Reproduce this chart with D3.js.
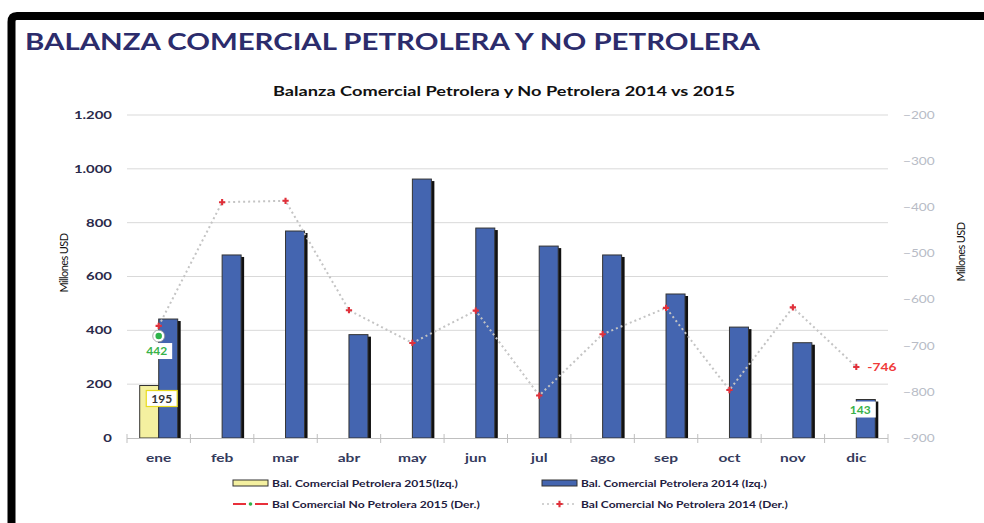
<!DOCTYPE html>
<html>
<head>
<meta charset="utf-8">
<script src="https://cdn.jsdelivr.net/npm/d3@7/dist/d3.min.js"></script>
<style>
    body { margin: 0; background: #fff; }
    svg { display: block; font-family: Lato, "Open Sans", sans-serif; }
</style>
</head>
<body>
<div id="chart"></div>
<script>
// Data
const months = ["ene", "feb", "mar", "abr", "may", "jun", "jul", "ago", "sep", "oct", "nov", "dic"];
const petrolera2015 = [195, null, null, null, null, null, null, null, null, null, null, null];
const petrolera2014 = [442, 680, 769, 384, 962, 780, 713, 680, 535, 412, 354, 143];
const noPetrolera2015 = [-679, null, null, null, null, null, null, null, null, null, null, null];
const noPetrolera2014 = [-657, -389, -386, -623, -694, -624, -808, -675, -618, -796, -617, -746];
const leftTicks = [0, 200, 400, 600, 800, 1000, 1200];
const rightTicks = [-900, -800, -700, -600, -500, -400, -300, -200];

const w = 984, h = 523;

const svg = d3.select("#chart").append("svg")
    .attr("width", w)
    .attr("height", h);

// the source picture is stretched sideways, so texts get widened around their anchor
function stretch(sel, k) {
    sel.each(function() {
        const t = d3.select(this);
        const x = +t.attr("x") || 0;
        const y = +t.attr("y") || 0;
        t.attr("x", 0).attr("y", 0)
            .attr("transform", "translate(" + x + "," + y + ") scale(" + k + ",1)");
    });
}

// frame
svg.append("path")
    .attr("d", "M11.5,523 L11.5,22 Q11.5,16 17,16 L984,16")
    .attr("fill", "none")
    .attr("stroke", "#000")
    .attr("stroke-width", 8);

// page title
svg.append("text")
    .attr("x", 25)
    .attr("y", 50)
    .attr("fill", "#2c2c6c")
    .attr("textLength", 735)
    .attr("lengthAdjust", "spacingAndGlyphs")
    .style("font-weight", "bold")
    .style("font-size", "23px")
    .text("BALANZA COMERCIAL PETROLERA Y NO PETROLERA");

// chart title
svg.append("text")
    .attr("x", 273)
    .attr("y", 96)
    .attr("fill", "#111")
    .attr("textLength", 462)
    .attr("lengthAdjust", "spacingAndGlyphs")
    .style("font-weight", "bold")
    .style("font-size", "14px")
    .text("Balanza Comercial Petrolera y No Petrolera 2014 vs 2015");

const xScale = d3.scaleBand()
    .domain(months)
    .range([127, 888])
    .padding(0);

const yLeft = d3.scaleLinear()
    .domain([0, 1200])
    .range([438, 115]);

const yRight = d3.scaleLinear()
    .domain([-900, -200])
    .range([438, 115]);

const barW = 19;
const center = function(m) { return xScale(m) + xScale.bandwidth() / 2; };

// gridlines
svg.append("g")
    .selectAll("line")
    .data(leftTicks.slice(1))
    .enter()
    .append("line")
    .attr("x1", 127)
    .attr("x2", 888)
    .attr("y1", function(d) { return yLeft(d); })
    .attr("y2", function(d) { return yLeft(d); })
    .attr("stroke", "#d9d9d9")
    .attr("stroke-width", 1);

// left axis labels
svg.append("g")
    .attr("transform", "translate(127,0)")
    .call(d3.axisLeft(yLeft).tickValues(leftTicks).tickSize(0).tickPadding(15)
        .tickFormat(function(d) { return d3.format(",")(d).replace(",", "."); }))
    .call(function(g) { g.select(".domain").remove(); })
    .selectAll("text")
    .attr("fill", "#2a2a4a")
    .style("font-weight", "bold")
    .style("font-size", "10.5px")
    .style("font-family", "Lato, sans-serif")
    .call(stretch, 1.42);

// right axis labels
svg.append("g")
    .attr("transform", "translate(888,0)")
    .call(d3.axisRight(yRight).tickValues(rightTicks).tickSize(0).tickPadding(15))
    .call(function(g) { g.select(".domain").remove(); })
    .selectAll("text")
    .attr("fill", "#b8bcc6")
    .style("font-size", "10.5px")
    .style("font-family", "Lato, sans-serif")
    .call(stretch, 1.3);

// axis titles
svg.append("text")
    .attr("transform", "translate(68,263) rotate(-90)")
    .attr("text-anchor", "middle")
    .attr("fill", "#111")
    .style("font-size", "11px")
    .style("letter-spacing", "-0.6px")
    .text("Millones USD");

svg.append("text")
    .attr("transform", "translate(965,252) rotate(-90)")
    .attr("text-anchor", "middle")
    .attr("fill", "#111")
    .style("font-size", "11px")
    .style("letter-spacing", "-0.6px")
    .text("Millones USD");

// bars with drop shadow
const bars = [
    { key: "2015", data: petrolera2015, fill: "#f4f0a0", offset: -barW },
    { key: "2014", data: petrolera2014, fill: "#4465b0", offset: 0 }
];

bars.forEach(function(s) {
    const rows = months.map(function(m, i) { return { month: m, value: s.data[i] }; })
        .filter(function(d) { return d.value != null; });

    const g = svg.append("g");

    g.selectAll("rect.shadow")
        .data(rows)
        .enter()
        .append("rect")
        .attr("class", "shadow")
        .attr("x", function(d) { return center(d.month) + s.offset + 3; })
        .attr("y", function(d) { return yLeft(d.value) + 2; })
        .attr("width", barW)
        .attr("height", function(d) { return yLeft(0) - yLeft(d.value) - 2; })
        .attr("fill", "#111");

    g.selectAll("rect.bar")
        .data(rows)
        .enter()
        .append("rect")
        .attr("class", "bar")
        .attr("x", function(d) { return center(d.month) + s.offset; })
        .attr("y", function(d) { return yLeft(d.value); })
        .attr("width", barW)
        .attr("height", function(d) { return yLeft(0) - yLeft(d.value); })
        .attr("fill", s.fill)
        .attr("stroke", "#333")
        .attr("stroke-width", 1);
});

// x axis line and ticks
svg.append("line")
    .attr("x1", 127).attr("x2", 888)
    .attr("y1", 438.5).attr("y2", 438.5)
    .attr("stroke", "#bfbfbf");

svg.append("g")
    .selectAll("line")
    .data(months.concat(["end"]))
    .enter()
    .append("line")
    .attr("x1", function(d, i) { return 127 + i * xScale.bandwidth(); })
    .attr("x2", function(d, i) { return 127 + i * xScale.bandwidth(); })
    .attr("y1", 434)
    .attr("y2", 443)
    .attr("stroke", "#bfbfbf");

svg.append("g")
    .selectAll("text")
    .data(months)
    .enter()
    .append("text")
    .attr("x", function(d) { return center(d); })
    .attr("y", 462)
    .attr("text-anchor", "middle")
    .attr("fill", "#343a5c")
    .style("font-weight", "bold")
    .style("font-size", "11.5px")
    .text(function(d) { return d; })
    .call(stretch, 1.35);

// No petrolera 2014 (dotted)
const line14 = months.map(function(m, i) { return { month: m, value: noPetrolera2014[i] }; });

svg.append("path")
    .datum(line14)
    .attr("fill", "none")
    .attr("stroke", "#c4c4c4")
    .attr("stroke-width", 2)
    .attr("stroke-dasharray", "2,3")
    .attr("d", d3.line()
        .x(function(d) { return center(d.month); })
        .y(function(d) { return yRight(d.value); }));

const plus = d3.symbol().type(d3.symbolCross).size(22);

svg.append("g")
    .selectAll("path")
    .data(line14)
    .enter()
    .append("path")
    .attr("transform", function(d) { return "translate(" + center(d.month) + "," + yRight(d.value) + ")"; })
    .attr("d", plus)
    .attr("fill", "#e0303a");

// No petrolera 2015 (single point)
const line15 = months.map(function(m, i) { return { month: m, value: noPetrolera2015[i] }; })
    .filter(function(d) { return d.value != null; });

svg.append("g")
    .selectAll("circle")
    .data(line15)
    .enter()
    .append("circle")
    .attr("cx", function(d) { return center(d.month); })
    .attr("cy", function(d) { return yRight(d.value); })
    .attr("r", 4.5)
    .attr("fill", "#2fb44a")
    .attr("stroke", "#fff")
    .attr("stroke-width", 2.5);

svg.append("g")
    .selectAll("circle")
    .data(line15)
    .enter()
    .append("circle")
    .attr("cx", function(d) { return center(d.month); })
    .attr("cy", function(d) { return yRight(d.value); })
    .attr("r", 6)
    .attr("fill", "none")
    .attr("stroke", "#999")
    .attr("stroke-width", 0.8);

// data labels
function boxLabel(x, y, txt, color, border) {
    const g = svg.append("g").attr("transform", "translate(" + x + "," + y + ")");
    const t = g.append("text")
        .attr("text-anchor", "middle")
        .attr("dy", "0.36em")
        .attr("fill", color)
        .style("font-weight", "bold")
        .style("font-size", "12px")
        .text(txt);
    const bb = t.node().getBBox();
    g.insert("rect", "text")
        .attr("x", bb.x - 5)
        .attr("y", -8)
        .attr("width", bb.width + 10)
        .attr("height", 16)
        .attr("fill", "#fff")
        .attr("stroke", border)
        .attr("stroke-width", 1.2);
}

boxLabel(center("ene") - 2, yRight(noPetrolera2015[0]) + 15, petrolera2014[0], "#38b24a", "none");
boxLabel(center("ene") + 3, yLeft(petrolera2015[0]) + 13, petrolera2015[0], "#333", "#e8dc20");
boxLabel(center("dic") + 4, yLeft(petrolera2014[11]) + 10, petrolera2014[11], "#38b24a", "none");

svg.append("text")
    .attr("x", center("dic") + 11)
    .attr("y", yRight(noPetrolera2014[11]))
    .attr("dy", "0.36em")
    .attr("fill", "#f03a3a")
    .style("font-weight", "bold")
    .style("font-size", "11.5px")
    .text(noPetrolera2014[11])
    .call(stretch, 1.2);

// legend
const legend = [
    { label: "Bal. Comercial Petrolera 2015(Izq.)", type: "bar", color: "#f4f0a0", x: 233, y: 483, len: 186 },
    { label: "Bal. Comercial Petrolera 2014 (Izq.)", type: "bar", color: "#4465b0", x: 542, y: 483, len: 186 },
    { label: "Bal Comercial No Petrolera 2015 (Der.)", type: "line15", color: "#e8303a", x: 233, y: 504, len: 208 },
    { label: "Bal Comercial No Petrolera 2014 (Der.)", type: "line14", color: "#c4c4c4", x: 542, y: 504, len: 207 }
];

legend.forEach(function(d) {
    const g = svg.append("g").attr("transform", "translate(" + d.x + "," + d.y + ")");
    if (d.type == "bar") {
        g.append("rect")
            .attr("x", 0).attr("y", -3)
            .attr("width", 35).attr("height", 6)
            .attr("fill", d.color)
            .attr("stroke", "#333");
    } else if (d.type == "line15") {
        g.append("line").attr("x1", 0).attr("x2", 35).attr("y1", 0).attr("y2", 0)
            .attr("stroke", d.color).attr("stroke-width", 2);
        g.append("rect").attr("x", 13).attr("y", -3).attr("width", 9).attr("height", 6).attr("fill", "#fff");
        g.append("circle").attr("cx", 17.5).attr("cy", 0).attr("r", 1.8).attr("fill", "#2fb44a");
    } else {
        g.append("line").attr("x1", 0).attr("x2", 35).attr("y1", 0).attr("y2", 0)
            .attr("stroke", d.color).attr("stroke-width", 1.5).attr("stroke-dasharray", "2,3");
        g.append("path").attr("transform", "translate(17.5,0)").attr("d", plus).attr("fill", "#e0303a");
    }
    const t = g.append("text")
        .attr("x", 39)
        .attr("y", 3.5)
        .attr("fill", "#1e2040")
        .style("font-weight", "bold")
        .style("font-size", "10px")
        .text(d.label);
    const natural = t.node().getComputedTextLength();
    t.call(stretch, d.len / natural);
});
</script>
</body>
</html>
